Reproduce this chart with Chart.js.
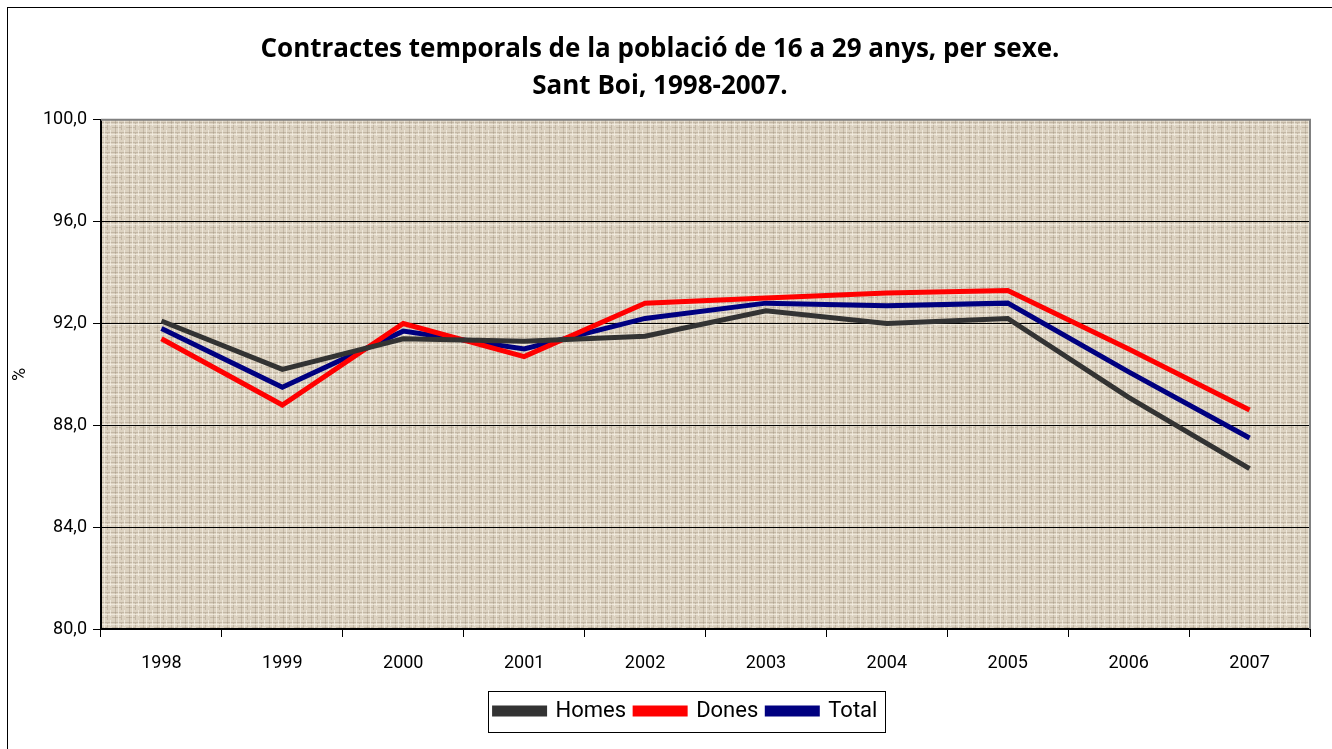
<!DOCTYPE html>
<html>
<head>
<meta charset="utf-8">
<script src="https://cdn.jsdelivr.net/npm/chart.js@4.4.1/dist/chart.umd.min.js"></script>
<style>
  html, body { margin: 0; padding: 0; background: #fff; }
  #frame { position: absolute; left: 7px; top: 7px; width: 1340px; height: 760px; border: 1px solid #000; }
  #wrap { position: absolute; left: 0; top: 0; width: 1332px; height: 749px; }
</style>
</head>
<body>
<div id="frame"></div>
<div id="wrap"><canvas id="chart" width="1332" height="749"></canvas></div>
<script>
// Data
const years = ["1998", "1999", "2000", "2001", "2002", "2003", "2004", "2005", "2006", "2007"];
const homes = [92.1, 90.2, 91.4, 91.3, 91.5, 92.5, 92.0, 92.2, 89.1, 86.3];
const dones = [91.4, 88.8, 92.0, 90.7, 92.8, 93.0, 93.2, 93.3, 91.0, 88.6];
const total = [91.8, 89.5, 91.7, 91.0, 92.2, 92.8, 92.7, 92.8, 90.1, 87.5];
const yTicks = [80, 84, 88, 92, 96, 100];

const font = "Roboto, 'DejaVu Sans', sans-serif";

// woven beige texture for the plot area
function makeTexture() {
    const c = document.createElement("canvas");
    c.width = 14; c.height = 10;
    const g = c.getContext("2d");
    g.fillStyle = "#dcd2c1";
    g.fillRect(0, 0, 14, 10);
    g.fillStyle = "rgba(150,135,115,0.35)";
    g.fillRect(0, 2, 14, 1);
    g.fillRect(0, 7, 9, 1);
    g.fillRect(3, 0, 1, 10);
    g.fillRect(9, 3, 1, 7);
    g.fillStyle = "rgba(245,240,228,0.7)";
    g.fillRect(0, 4, 14, 1);
    g.fillRect(6, 0, 1, 10);
    g.fillRect(12, 0, 1, 6);
    return c;
}

const legendShift = 26;

const plotBg = {
    id: "plotBg",
    beforeDraw(chart) {
        // move the legend a bit right, like in the original
        const lg = chart.legend;
        lg.left += legendShift;
        lg.right += legendShift;
        lg.legendHitBoxes.forEach(b => { b.left += legendShift; });

        const a = chart.chartArea;
        const ctx = chart.ctx;
        ctx.save();
        ctx.fillStyle = ctx.createPattern(makeTexture(), "repeat");
        ctx.fillRect(a.left, a.top, a.right - a.left, a.bottom - a.top);
        ctx.restore();
    },
    afterDraw(chart) {
        const a = chart.chartArea;
        const ctx = chart.ctx;
        ctx.save();
        ctx.strokeStyle = "#808080";
        ctx.lineWidth = 2;
        ctx.beginPath();
        ctx.moveTo(a.left, a.top);
        ctx.lineTo(a.right, a.top);
        ctx.lineTo(a.right, a.bottom);
        ctx.stroke();
        // legend frame around the items only
        const boxes = chart.legend.legendHitBoxes;
        const x0 = Math.min(...boxes.map(b => b.left)) - 7;
        const x1 = Math.max(...boxes.map(b => b.left + b.width)) + 7;
        const y0 = chart.legend.top;
        const y1 = chart.legend.bottom;
        ctx.strokeStyle = "#000";
        ctx.lineWidth = 1;
        ctx.strokeRect(Math.round(x0) + 0.5, Math.round(y0) + 0.5, Math.round(x1 - x0), Math.round(y1 - y0));
        ctx.restore();
    }
};

const ctx = document.getElementById("chart").getContext("2d");
new Chart(ctx, {
    type: "line",
    data: {
        labels: years,
        datasets: [
            { label: "Homes", data: homes, borderColor: "#333333", backgroundColor: "#333333" },
            { label: "Dones", data: dones, borderColor: "#ff0000", backgroundColor: "#ff0000" },
            { label: "Total", data: total, borderColor: "#000080", backgroundColor: "#000080" }
        ]
    },
    options: {
        responsive: false,
        animation: false,
        layout: { padding: { left: 10, right: 22, top: 0, bottom: 17 } },
        elements: {
            line: { borderWidth: 5, tension: 0 },
            point: { radius: 0 }
        },
        plugins: {
            title: {
                display: true,
                text: ["Contractes temporals de la població de 16 a 29 anys, per sexe.", "Sant Boi, 1998-2007."],
                color: "#000",
                font: { family: "'Open Sans', Roboto, sans-serif", size: 26, weight: "bold", lineHeight: 1.42 },
                padding: { top: 31, bottom: 15 }
            },
            legend: {
                position: "bottom",
                labels: {
                    color: "#000",
                    font: { family: font, size: 22 },
                    boxWidth: 50,
                    boxHeight: 6,
                    padding: 9
                }
            },
            tooltip: { enabled: false }
        },
        scales: {
            x: {
                offset: true,
                afterFit(scale) { scale.height = 62; },
                grid: { display: true, drawOnChartArea: false, offset: true, color: "#000", tickLength: 8 },
                border: { color: "#000", width: 2 },
                ticks: { color: "#000", font: { family: font, size: 18 }, padding: 16, maxRotation: 0 }
            },
            y: {
                min: 80,
                max: 100,
                afterBuildTicks(scale) {
                    scale.ticks = yTicks.map(v => ({ value: v }));
                },
                afterFit(scale) { scale.width = 91; },
                title: {
                    display: true,
                    text: "%",
                    color: "#000",
                    font: { family: font, size: 18 },
                    padding: 0
                },
                grid: { color: "#000", lineWidth: 1, tickLength: 8 },
                border: { color: "#000", width: 2 },
                ticks: {
                    color: "#000",
                    font: { family: font, size: 18 },
                    padding: 6,
                    callback: v => v.toFixed(1).replace(".", ",")
                }
            }
        }
    },
    plugins: [plotBg]
});
</script>
</body>
</html>
